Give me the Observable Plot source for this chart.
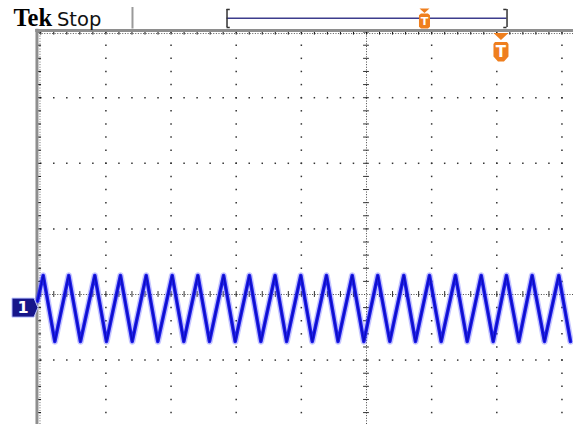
<!DOCTYPE html>
<html><head><meta charset="utf-8">
<script src="https://cdn.jsdelivr.net/npm/d3@7"></script>
<script src="https://cdn.jsdelivr.net/npm/@observablehq/plot@0.6"></script>
<style>html,body{margin:0;padding:0;background:#fff;overflow:hidden;width:573px;height:424px}</style>
</head><body><div id="chart"></div>
<script>
// ---- Data (time and voltage in screen divisions) ----
const peakTimes = [-4.962,-4.570,-4.170,-3.776,-3.381,-2.982,-2.588,-2.193,-1.797,-1.403,-1.008,-0.614,-0.219,0.173,0.573,0.967,1.366,1.761,2.149,2.543,2.952];
const peakLevels = [0.29,0.29,0.29,0.29,0.29,0.29,0.29,0.29,0.29,0.29,0.29,0.29,0.29,0.29,0.29,0.29,0.29,0.29,0.29,0.29,0.29];
const troughTimes = [-4.784,-4.390,-3.991,-3.596,-3.203,-2.804,-2.410,-2.015,-1.621,-1.226,-0.832,-0.437,-0.041,0.358,0.752,1.147,1.546,1.945,2.338,2.732,3.131];
const troughLevels = [-0.716,-0.716,-0.716,-0.716,-0.716,-0.716,-0.716,-0.716,-0.716,-0.716,-0.716,-0.716,-0.716,-0.716,-0.716,-0.716,-0.716,-0.716,-0.716,-0.716,-0.716];
const traceStart = {t: -5.05, v: -0.10};
const ch1Level = -0.20;        // channel 1 ground marker
const triggerTime = 2.064;     // trigger position on screen
const recordTrigger = 0.890;   // trigger position in record bar
const recordStart = -2.141, recordEnd = 2.157;
const statusLabels = ["Tek", "Stop"];

// ---- Layout (divisions) ----
const xDomain = [-366/65.15, (573-366)/65.15];
const yDomain = [-(424-294)/65.6, 294/65.6];
const gratLeft = -5.058, gratTop = 4.024, gratRight = 3.3, gratBottom = -2.1;
const recordY = 4.212, bracketTop = 4.345, bracketBottom = 4.07;

const wave = [traceStart];
peakTimes.forEach((t, i) => {
  wave.push({t, v: peakLevels[i]});
  wave.push({t: troughTimes[i], v: troughLevels[i]});
});

const range = (a, b, s) => { const r = []; for (let k = Math.round(a/s); k <= Math.round(b/s); k++) r.push(+(k*s).toFixed(3)); return r; };
const vLines = [-4,-3,-2,-1,1,2,3];
const hLines = [3,2,1,-1];
const gridDots = [];
vLines.forEach(x => range(-2, 4, 0.2).forEach(y => gridDots.push({x, y})));
hLines.forEach(y => range(-5, 3.2, 0.2).forEach(x => gridDots.push({x, y})));
const xTicks = range(-5, 3.2, 0.2).filter(d => d !== 0);
const yTicks = range(-2, 4, 0.2).filter(d => d !== 0);

const chSymbol = {draw(c){ c.moveTo(1,0); c.lineTo(-3,-9.5); c.lineTo(-25,-9.5); c.lineTo(-25,9.5); c.lineTo(-3,9.5); c.closePath(); }};
const bigTrig = {draw(c){
  c.moveTo(-7.5,2.5); c.lineTo(7.5,2.5); c.lineTo(0,9.5); c.closePath();
  c.moveTo(-7.5,13.5); c.lineTo(-6,11.5); c.lineTo(6,11.5); c.lineTo(7.5,13.5); c.lineTo(7.5,26); c.lineTo(3,31); c.lineTo(-3,31); c.lineTo(-7.5,26); c.closePath();
}};
const smallTrig = {draw(c){
  c.moveTo(-5,-9.7); c.lineTo(5,-9.7); c.lineTo(0,-5.2); c.closePath();
  c.moveTo(-5.5,-3); c.lineTo(-3.5,-4.7); c.lineTo(3.5,-4.7); c.lineTo(5.5,-3); c.lineTo(5.5,8.5); c.lineTo(3.5,10.3); c.lineTo(-3.5,10.3); c.lineTo(-5.5,8.5); c.closePath();
}};

const orange = "#ef7f1e";
const plot = Plot.plot({
  width: 573, height: 424, margin: 0,
  x: {domain: xDomain, axis: null},
  y: {domain: yDomain, axis: null},
  style: {background: "#fff"},
  marks: [
    // graticule dots
    Plot.dot(gridDots, {x: "x", y: "y", symbol: "square", r: 0.85, fill: "#333"}),
    // center cross
    Plot.ruleX([0], {y1: gratBottom, y2: gratTop, stroke: "#444", strokeDasharray: "1,1.6"}),
    Plot.ruleY([0], {x1: gratLeft, x2: gratRight, stroke: "#444", strokeDasharray: "1,1.6"}),
    Plot.ruleY(yTicks, {y: d => d, x1: -0.045, x2: 0.045, stroke: "#333"}),
    Plot.ruleX(xTicks, {x: d => d, y1: -0.045, y2: 0.045, stroke: "#333"}),
    // top ruler
    Plot.ruleY([gratTop], {x1: gratLeft, x2: gratRight, dy: 3, stroke: "#555", strokeDasharray: "1,1.6"}),
    Plot.ruleX(xTicks.concat([0]), {x: d => d, y1: gratTop, y2: gratTop - 0.07, stroke: "#111"}),
    // left ruler
    Plot.ruleX([gratLeft], {y1: gratBottom, y2: gratTop, dx: 3, stroke: "#666", strokeDasharray: "1,1.6"}),
    Plot.ruleY(yTicks.concat([0]), {y: d => d, x1: gratLeft, x2: gratLeft + 0.07, stroke: "#111"}),
    // borders
    Plot.ruleY([gratTop], {x1: gratLeft - 0.02, x2: gratRight, stroke: "#8e8e8e", strokeWidth: 3}),
    Plot.ruleX([gratLeft], {y1: gratBottom, y2: gratTop + 0.02, stroke: "#8e8e8e", strokeWidth: 3}),
    // waveform (phosphor halo + trace + dense core)
    Plot.line(wave, {x: "t", y: "v", curve: "linear", stroke: "#4646ff", strokeOpacity: 0.3, strokeWidth: 6.5, strokeLinejoin: "round"}),
    Plot.line(wave, {x: "t", y: "v", curve: "linear", stroke: "#2020ec", strokeWidth: 3.6, strokeLinejoin: "round"}),
    Plot.line(wave, {x: "t", y: "v", curve: "linear", stroke: "#0c0cc0", strokeWidth: 1.3, strokeLinejoin: "round"}),
    // channel marker
    Plot.dot([ch1Level], {x: gratLeft, y: d => d, symbol: chSymbol, r: 3, fill: "#16168a", stroke: "#b8c0ff", strokeWidth: 1}),
    Plot.text(["1"], {x: gratLeft, y: ch1Level, dx: -14, fill: "#fff", fontSize: 16, fontWeight: "bold", fontFamily: "DejaVu Sans", textAnchor: "middle"}),
    // status bar
    Plot.text([statusLabels[0]], {x: -5.418, y: 4.10, textAnchor: "start", lineAnchor: "bottom", fontFamily: "Liberation Serif", fontWeight: "bold", fontSize: 24.5, fill: "#000"}),
    Plot.text([statusLabels[1]], {x: -4.751, y: 4.10, textAnchor: "start", lineAnchor: "bottom", fontFamily: "DejaVu Sans", fontSize: 19.5, fill: "#111"}),
    Plot.ruleX([-3.592], {y1: 4.047, y2: 4.375, stroke: "#9a9a9a", strokeWidth: 2}),
    // record bar
    Plot.ruleY([recordY], {x1: recordStart, x2: recordEnd, stroke: "#3c3c8c", strokeWidth: 1.6}),
    Plot.ruleX([recordStart, recordEnd], {x: d => d, y1: bracketBottom, y2: bracketTop, stroke: "#333", strokeWidth: 1.5}),
    Plot.ruleY([bracketTop, bracketBottom], {y: d => d, x1: recordStart, x2: recordStart + 0.05, stroke: "#333", strokeWidth: 1.5}),
    Plot.ruleY([bracketTop, bracketBottom], {y: d => d, x1: recordEnd - 0.05, x2: recordEnd, stroke: "#333", strokeWidth: 1.5}),
    Plot.dot([recordTrigger], {x: d => d, y: recordY, symbol: smallTrig, r: 3, fill: orange}),
    Plot.text(["T"], {x: recordTrigger, y: recordY, dy: 3, fill: "#fff", fontSize: 11, fontWeight: "bold", fontFamily: "DejaVu Sans", textAnchor: "middle"}),
    // trigger marker
    Plot.dot([triggerTime], {x: d => d, y: gratTop, symbol: bigTrig, r: 3, fill: orange}),
    Plot.text(["T"], {x: triggerTime, y: gratTop, dy: 21.5, fill: "#fff", fontSize: 15, fontWeight: "bold", fontFamily: "DejaVu Sans", textAnchor: "middle"})
  ]
});
document.getElementById("chart").appendChild(plot);
</script>
</body></html>
